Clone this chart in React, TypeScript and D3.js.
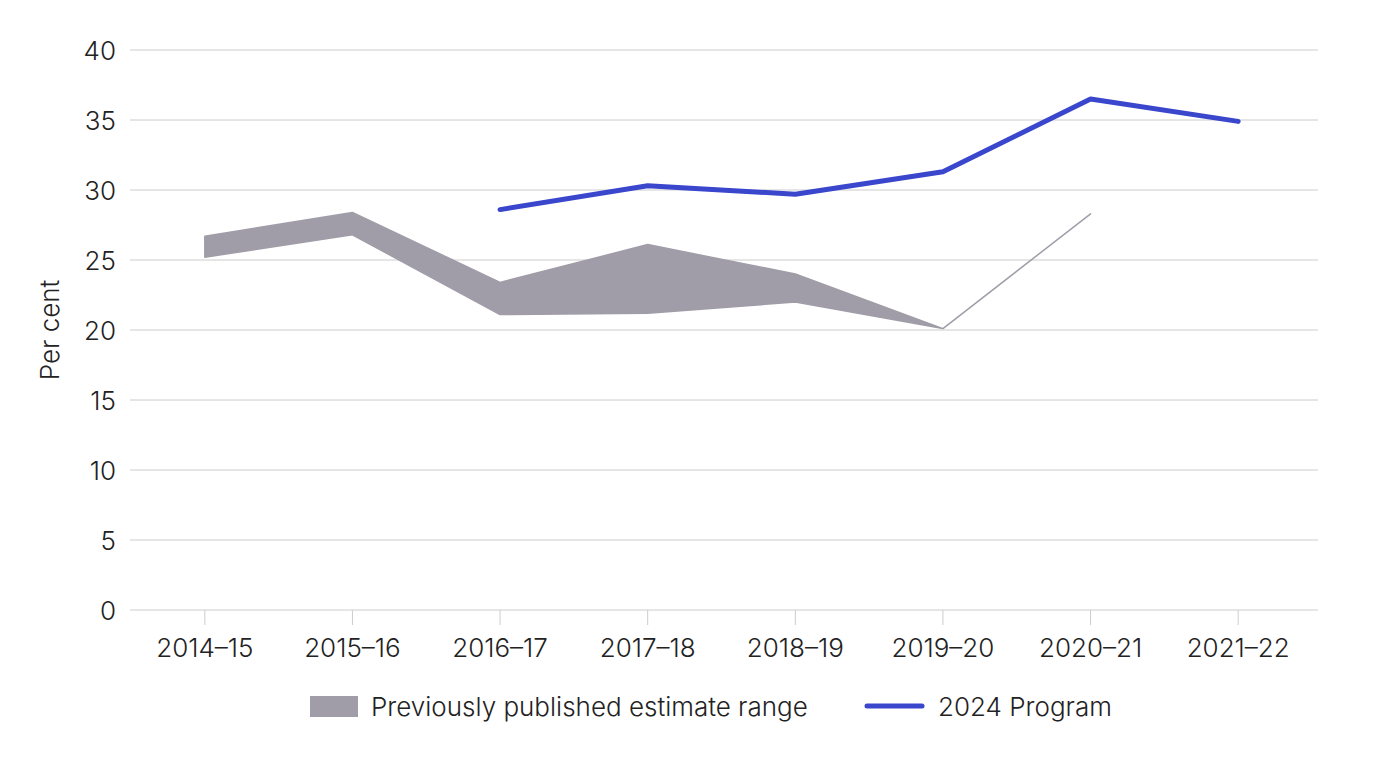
import React from "react";
import * as d3 from "d3";

const categories = ["2014–15", "2015–16", "2016–17", "2017–18", "2018–19", "2019–20", "2020–21", "2021–22"];
const rangeUpper: (number | null)[] = [26.7, 28.4, 23.4, 26.1, 24.0, 20.1, 28.3, null];
const rangeLower: (number | null)[] = [25.2, 26.8, 21.1, 21.2, 22.0, 20.1, 28.3, null];
const program2024: (number | null)[] = [null, null, 28.6, 30.3, 29.7, 31.3, 36.5, 34.9];
const yTicks = [0, 5, 10, 15, 20, 25, 30, 35, 40];

const W = 1378, H = 758;
const M = { left: 130, right: 1318, top: 50, bottom: 610 };
const GREY = "#a09da8";
const BLUE = "#3a46cc";
const FONT = "Inter, 'Noto Sans', sans-serif";
const FS = 26;

export default function App() {
  const x = d3.scaleBand<string>().domain(categories).range([131, 1312]);
  const xc = (c: string) => (x(c) as number) + x.bandwidth() / 2;
  const y = d3.scaleLinear().domain([0, 40]).range([M.bottom, M.top]);

  const rangeData = categories
    .map((c, i) => ({ c, lo: rangeLower[i], hi: rangeUpper[i] }))
    .filter((d) => d.lo != null && d.hi != null) as { c: string; lo: number; hi: number }[];
  const area = d3
    .area<{ c: string; lo: number; hi: number }>()
    .x((d) => xc(d.c))
    .y0((d) => y(d.lo))
    .y1((d) => y(d.hi));

  const lineData = categories
    .map((c, i) => ({ c, v: program2024[i] }))
    .filter((d) => d.v != null) as { c: string; v: number }[];
  const line = d3
    .line<{ c: string; v: number }>()
    .x((d) => xc(d.c))
    .y((d) => y(d.v));

  return (
    <svg width={W} height={H} style={{ position: "absolute", left: 0, top: 0, background: "#fff" }} fontFamily={FONT}>
      {yTicks.map((t) => (
        <g key={t}>
          <line x1={M.left} x2={M.right} y1={y(t)} y2={y(t)} stroke="#cccccc" strokeWidth={1} />
          <text x={116} y={y(t) + 9.5} textAnchor="end" fontSize={FS} fontWeight={300} fill="#222">
            {t}
          </text>
        </g>
      ))}
      {categories.map((c) => (
        <g key={c}>
          <line x1={xc(c)} x2={xc(c)} y1={M.bottom} y2={M.bottom + 15} stroke="#cccccc" strokeWidth={1} />
          <text x={xc(c)} y={657} textAnchor="middle" fontSize={FS} fontWeight={300} fill="#222">
            {c}
          </text>
        </g>
      ))}
      <text transform={`translate(59,330) rotate(-90)`} textAnchor="middle" fontSize={FS} fontWeight={300} fill="#222">
        Per cent
      </text>
      <path d={area(rangeData) || ""} fill={GREY} stroke={GREY} strokeWidth={1.5} strokeLinejoin="round" />
      <path d={line(lineData) || ""} fill="none" stroke={BLUE} strokeWidth={5} strokeLinecap="round" strokeLinejoin="round" />
      <rect x={310} y={696} width={48} height={21} fill={GREY} />
      <text x={371} y={716} fontSize={FS} fontWeight={300} fill="#222">
        Previously published estimate range
      </text>
      <line x1={867} x2={922} y1={706} y2={706} stroke={BLUE} strokeWidth={5} strokeLinecap="round" />
      <text x={938} y={716} fontSize={FS} fontWeight={300} fill="#222">
        2024 Program
      </text>
    </svg>
  );
}
